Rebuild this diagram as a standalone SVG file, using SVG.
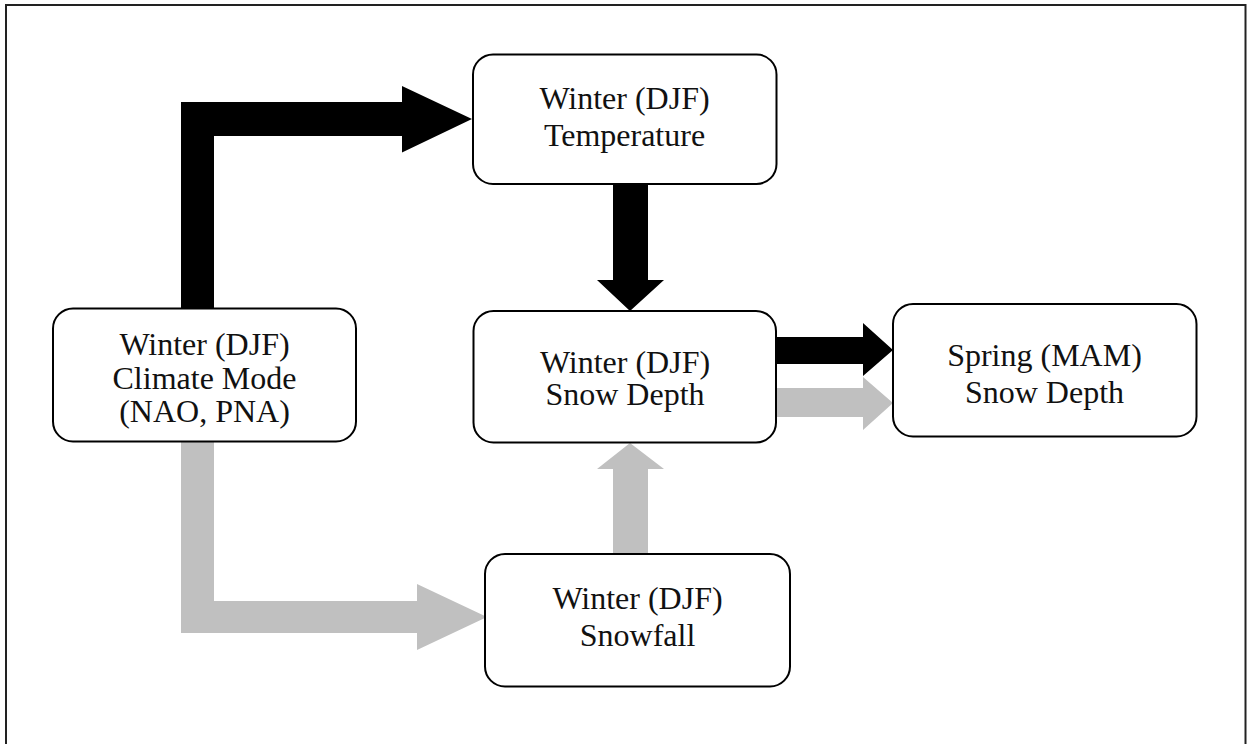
<svg xmlns="http://www.w3.org/2000/svg" width="1252" height="744" viewBox="0 0 1252 744">
<style>
.node rect{fill:#fff;stroke:#000;stroke-width:2}
.node text{font-family:"Liberation Serif","Times New Roman",serif;font-size:32px;fill:#111;text-anchor:middle}
.blk{fill:#000}
.gry{fill:#c0c0c0}
</style>
<rect x="0" y="0" width="1252" height="744" fill="#fff"/>
<rect x="6" y="5" width="1239.5" height="760" fill="none" stroke="#222" stroke-width="2"/>
<g id="connectors">
<polygon class="blk" points="181,309 181,102 402,102 402,86 472,119 402,152.5 402,136 214,136 214,309"/>
<polygon class="gry" points="181,442 181,633 417,633 417,650 487,617 417,584 417,601 214,601 214,442"/>
<polygon class="blk" points="613,184 648,184 648,280 664,280 630,311 597,280 613,280"/>
<polygon class="gry" points="613,554 613,469 597,469 630,443 664,469 648,469 648,554"/>
<polygon class="blk" points="776,337 863,337 863,323 893,350 863,376 863,364 776,364"/>
<polygon class="gry" points="776,388 863,388 863,377 893,403 863,430 863,417 776,417"/>
</g>
<g id="climate" class="node">
<rect x="53" y="308.5" width="303" height="133" rx="20"/>
<text x="204.5" y="355">Winter (DJF)</text>
<text x="204.5" y="389">Climate Mode</text>
<text x="204.5" y="422">(NAO, PNA)</text>
</g>
<g id="temperature" class="node">
<rect x="473" y="54.5" width="303.5" height="129.5" rx="20"/>
<text x="624.5" y="108.5">Winter (DJF)</text>
<text x="624.5" y="146">Temperature</text>
</g>
<g id="snowdepth" class="node">
<rect x="473.5" y="311" width="302.5" height="131.5" rx="20"/>
<text x="625" y="372.5">Winter (DJF)</text>
<text x="625" y="405">Snow Depth</text>
</g>
<g id="spring" class="node">
<rect x="893" y="304" width="303.5" height="132.5" rx="20"/>
<text x="1044.5" y="366">Spring (MAM)</text>
<text x="1044.5" y="403">Snow Depth</text>
</g>
<g id="snowfall" class="node">
<rect x="485" y="554" width="305" height="132.5" rx="20"/>
<text x="637.5" y="608.5">Winter (DJF)</text>
<text x="637.5" y="646">Snowfall</text>
</g>
</svg>
